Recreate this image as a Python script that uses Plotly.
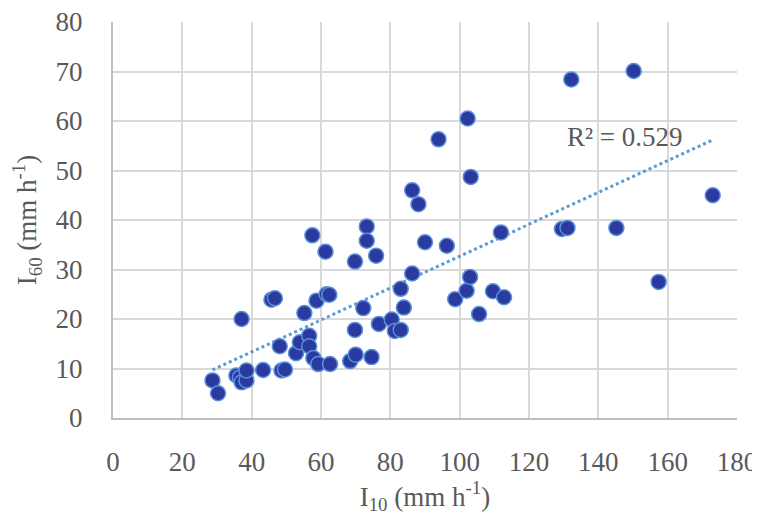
import numpy as np
import plotly.graph_objects as go

# I10 (mm h-1) and I60 (mm h-1) values
i10 = [28.7, 30.3, 35.6, 36.6, 37.1, 38.5, 38.5, 37.1, 43.3, 45.7, 46.7, 48.1, 48.6, 49.6,
       52.8, 53.9, 55.2, 56.6, 56.6, 57.8, 57.5, 58.7, 59.2, 61.6, 62.4, 61.3, 62.6, 68.4,
       69.8, 70.0, 69.8, 72.2, 73.2, 73.2, 74.6, 75.9, 76.7, 80.4, 81.3, 83.0, 83.0, 83.9,
       86.3, 86.3, 88.1, 90.0, 93.9, 96.3, 98.7, 102.3, 102.0, 103.2, 103.0, 105.6, 109.6,
       111.9, 112.8, 129.5, 131.1, 132.2, 145.2, 150.2, 157.4, 173.0]
i60 = [7.6, 5.0, 8.6, 8.2, 7.2, 7.6, 9.6, 20.0, 9.7, 23.9, 24.2, 14.5, 9.6, 9.8,
       13.1, 15.3, 21.2, 16.6, 14.5, 12.1, 36.9, 23.7, 10.9, 25.0, 24.9, 33.6, 10.9, 11.5,
       31.6, 12.8, 17.8, 22.2, 38.7, 35.8, 12.3, 32.8, 19.0, 19.9, 17.6, 17.8, 26.1, 22.3,
       29.2, 46.0, 43.2, 35.5, 56.3, 34.8, 24.0, 60.5, 25.7, 48.7, 28.5, 21.0, 25.6,
       37.5, 24.4, 38.2, 38.4, 68.4, 38.4, 70.1, 27.5, 45.0]
r2_label = "R² = 0.529"
x_ticks = [0, 20, 40, 60, 80, 100, 120, 140, 160, 180]
y_ticks = [0, 10, 20, 30, 40, 50, 60, 70, 80]

xa = np.array(i10)
ya = np.array(i60)
slope, intercept = np.polyfit(xa, ya, 1)
fit_x = np.array([xa.min(), xa.max()])
fit_y = slope * fit_x + intercept

FONT = "Liberation Serif"
TXT = "#595959"
FS = 27

fig = go.Figure()
fig.add_trace(go.Scatter(
    x=fit_x, y=fit_y, mode="lines",
    line=dict(color="#5B9BD5", width=3, dash="dot"),
    hoverinfo="skip", showlegend=False))
fig.add_trace(go.Scatter(
    x=i10, y=i60, mode="markers",
    marker=dict(size=15, color="#2A3A9F", line=dict(color="#5B8FDB", width=1.5)),
    showlegend=False))

fig.add_annotation(x=147.8, y=56.8, xref="x", yref="y", text=r2_label, showarrow=False,
                   font=dict(family=FONT, size=FS, color=TXT))

fig.update_layout(
    width=760, height=526,
    margin=dict(l=105, r=31, t=14, b=116),
    paper_bgcolor="white", plot_bgcolor="white",
    font=dict(family=FONT, size=FS, color=TXT),
    xaxis=dict(range=[0, 180], tickvals=x_ticks, showgrid=True, gridcolor="#D9D9D9", gridwidth=1.5,
               zeroline=False, showline=True, linecolor="#BFBFBF", linewidth=2,
               automargin=False, ticklabelstandoff=19, ticklabeloverflow="allow",
               tickfont=dict(family=FONT, size=FS, color=TXT),
               title=dict(text="I<sub>10</sub> (mm h<sup>-1</sup>)", standoff=6,
                          font=dict(family=FONT, size=FS, color=TXT))),
    yaxis=dict(range=[0, 80], tickvals=y_ticks, showgrid=True, gridcolor="#D9D9D9", gridwidth=1.5,
               zeroline=False, showline=True, linecolor="#BFBFBF", linewidth=2,
               automargin=False, ticklabelstandoff=23, ticklabeloverflow="allow",
               tickfont=dict(family=FONT, size=FS, color=TXT),
               title=dict(text="I<sub>60</sub> (mm h<sup>-1</sup>)", standoff=14,
                          font=dict(family=FONT, size=FS, color=TXT))),
)

fig.write_html("out.html")
